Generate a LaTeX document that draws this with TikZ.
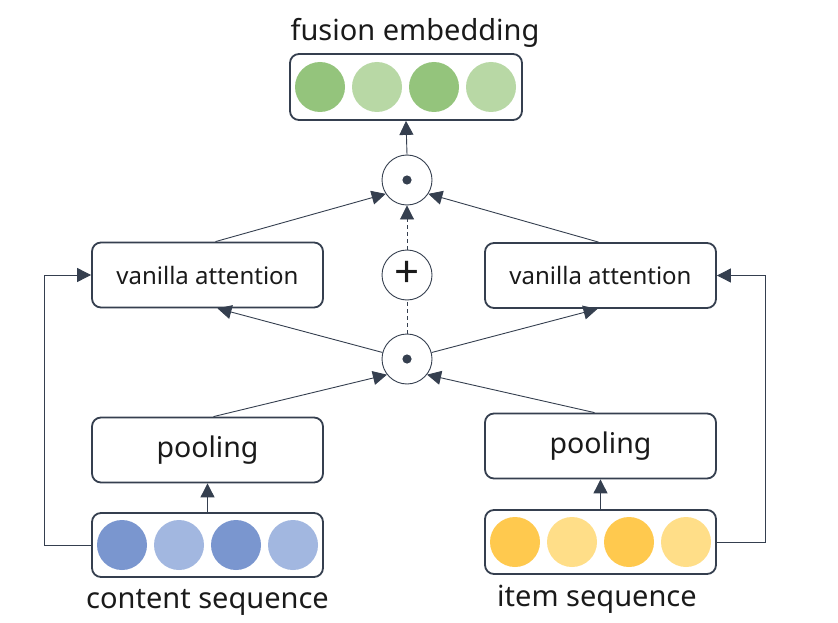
\documentclass[tikz,border=0pt]{standalone}
\usepackage{fontspec}
\setmainfont{Noto Sans}
\usetikzlibrary{arrows.meta,calc}
\definecolor{edge}{HTML}{353F4F}
\definecolor{txt}{HTML}{1A1A1A}
\definecolor{gdark}{HTML}{94C47C}
\definecolor{glight}{HTML}{B8D8A5}
\definecolor{bdark}{HTML}{7A96CF}
\definecolor{blight}{HTML}{A2B7E0}
\definecolor{ydark}{HTML}{FFC94E}
\definecolor{ylight}{HTML}{FFDE88}
\begin{document}
\begin{tikzpicture}[x=1pt,y=-1pt,
  box/.style={draw=edge, line width=1.8pt, rounded corners=9pt, minimum width=231pt, minimum height=65pt, inner sep=0pt, fill=white, text=txt},
  op/.style={circle, draw=edge, line width=0.9pt, minimum size=50pt, inner sep=0pt, fill=white},
  dot/.style={circle, minimum size=50pt, inner sep=0pt},
  lbl/.style={text=txt, font=\fontsize{29}{32}\selectfont, inner sep=0pt},
  conn/.style={draw=edge, line width=0.9pt, -{Triangle[length=14pt,width=14pt]}},
  dashconn/.style={draw=edge, line width=0.9pt, dash pattern=on 4pt off 3pt}
]
\useasboundingbox (0,0) rectangle (838,623);

% fusion embedding
\node[box, minimum width=232pt, minimum height=66pt] (fe) at (406,87) {};
\node[dot, fill=gdark] (fe1) at (320,87) {};
\node[dot, fill=glight] (fe2) at (377,87) {};
\node[dot, fill=gdark] (fe3) at (434,87) {};
\node[dot, fill=glight] (fe4) at (491,87) {};
\node[lbl] (fetitle) at (415,33) {fusion embedding};

% operators
\node[op] (otop) at (407,180) {};
\fill[edge] (otop) circle (4.6pt);
\node[op, font=\fontsize{44}{46}\selectfont\bfseries, text=txt] (plus) at (407,275) {\raisebox{1pt}{+}};
\node[op] (obot) at (407,359) {};
\fill[edge] (obot) circle (4.6pt);

% vanilla attention
\node[box, font=\fontsize{24}{28}\selectfont] (vl) at (207.5,275) {vanilla attention};
\node[box, font=\fontsize{24}{28}\selectfont] (vr) at (600.5,275.5) {vanilla attention};

% pooling
\node[box, font=\fontsize{28.5}{32}\selectfont] (pl) at (207.5,450) {\raisebox{-2pt}{pooling}};
\node[box, font=\fontsize{28.5}{32}\selectfont] (pr) at (600.5,446) {\raisebox{-2pt}{pooling}};

% sequences
\node[box, minimum height=64pt] (cs) at (207.5,545) {};
\node[dot, fill=bdark] (cs1) at (122,545) {};
\node[dot, fill=blight] (cs2) at (179,545) {};
\node[dot, fill=bdark] (cs3) at (236,545) {};
\node[dot, fill=blight] (cs4) at (293,545) {};
\node[lbl] (cslabel) at (207.5,602) {content sequence};

\node[box, minimum height=64pt] (is) at (600.5,542) {};
\node[dot, fill=ydark] (is1) at (515,542) {};
\node[dot, fill=ylight] (is2) at (572,542) {};
\node[dot, fill=ydark] (is3) at (629,542) {};
\node[dot, fill=ylight] (is4) at (686,542) {};
\node[lbl] (islabel) at (597,599) {item sequence};

% connectors
\draw[conn] (otop.north) -- (fe.south);
\draw[conn] ([xshift=8pt]vl.north) -- (otop.213);
\draw[conn] ([xshift=-2pt]vr.north) -- (otop.327);
\draw[dashconn, -{Triangle[length=14pt,width=14pt]}] (plus.north) -- (otop.south);
\draw[dashconn] (obot.north) -- (plus.south);

\draw[conn] (obot) -- ([xshift=10pt]vl.south);
\draw[conn] (obot) -- ([xshift=-3pt]vr.south);
\draw[conn] ([xshift=6pt]pl.north) -- (obot.218);
\draw[conn] ([xshift=-6pt]pr.north) -- (obot.322);

\draw[conn] (cs.north) -- (pl.south);
\draw[conn] (is.north) -- (pr.south);

\draw[conn] (cs.west) -- ++(-47,0) |- (vl.west);
\draw[conn] (is.east) -- ++(49,0) |- (vr.east);
\end{tikzpicture}
\end{document}
